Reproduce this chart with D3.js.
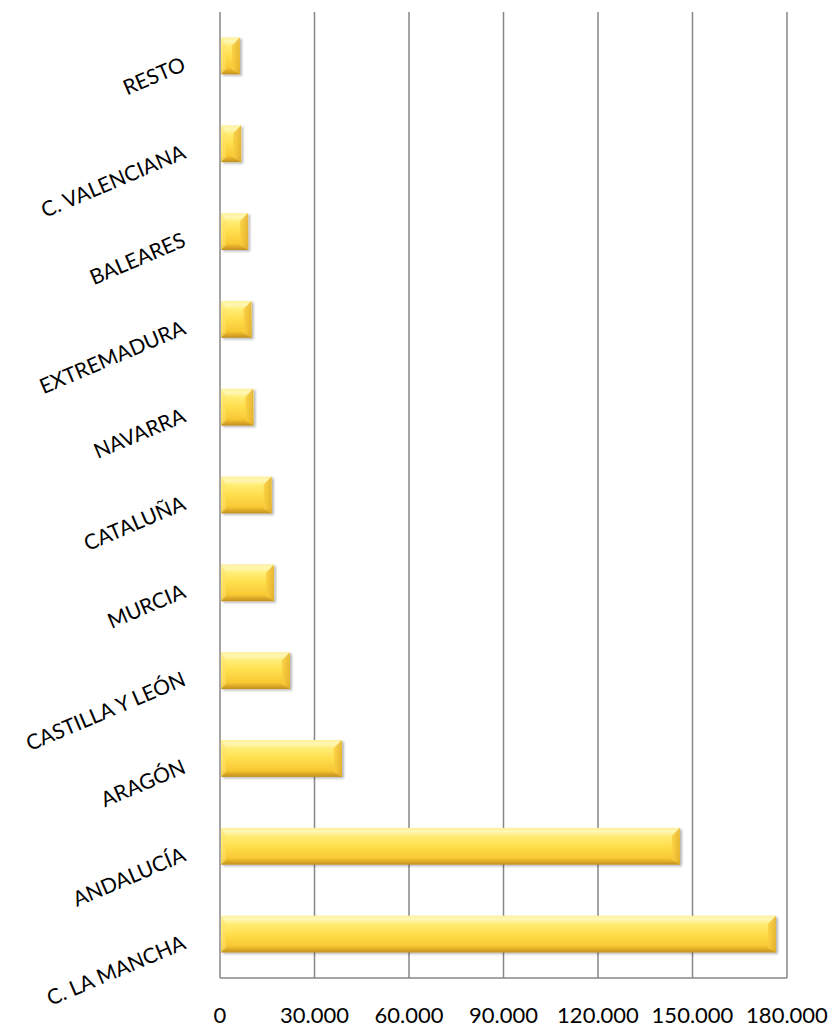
<!DOCTYPE html>
<html><head><meta charset="utf-8">
<script src="https://cdn.jsdelivr.net/npm/d3@7"></script>
<style>body{margin:0;background:#fff}svg{display:block}</style>
</head><body>
<script>
const categories = ["RESTO","C. VALENCIANA","BALEARES","EXTREMADURA","NAVARRA","CATALUÑA","MURCIA","CASTILLA Y LEÓN","ARAGÓN","ANDALUCÍA","C. LA MANCHA"];
const values = [6300,6700,8900,10000,10600,16400,17150,22200,38700,146000,176500];
const tickValues = [0,30000,60000,90000,120000,150000,180000];
const tickLabels = ["0","30.000","60.000","90.000","120.000","150.000","180.000"];

(function(){
const W=832,H=1028;
const svg=d3.select("body").append("svg").attr("width",W).attr("height",H);
const pL=220,pR=787,pT=12,pB=978;
const x=d3.scaleLinear().domain([0,180000]).range([pL,pR]);
const y=d3.scaleBand().domain(categories).range([pT,pB]).paddingInner(0.58).paddingOuter(0.29);

const defs=svg.append("defs");
const f=defs.append("filter").attr("id","sh").attr("x","-10%").attr("y","-30%").attr("width","130%").attr("height","170%");
f.append("feDropShadow").attr("dx",2).attr("dy",1.5).attr("stdDeviation",1.3).attr("flood-color","#000").attr("flood-opacity",0.28);
function grad(id,x2,y2,stops){
  const g=defs.append("linearGradient").attr("id",id).attr("x1",0).attr("y1",0).attr("x2",x2).attr("y2",y2);
  stops.forEach(s=>g.append("stop").attr("offset",s[0]).attr("stop-color",s[1]));
}
grad("mid",0,1,[["0%","#FFF09A"],["10%","#FFF7B4"],["24%","#FFEC72"],["50%","#FFDE4C"],["82%","#F8C934"],["91%","#E0AB28"],["100%","#BF901F"]]);
grad("rgt",1,0,[["0%","#FBD040"],["100%","#E2AE2C"]]);
grad("lft",1,0,[["0%","#FFE87A"],["100%","#FFE060"]]);

// grid
svg.append("g").selectAll("line").data(tickValues.slice(1)).join("line")
 .attr("x1",d=>x(d)).attr("x2",d=>x(d)).attr("y1",pT).attr("y2",pB)
 .attr("stroke","#878787").attr("stroke-width",1.5);

// bars
const b=8;
svg.append("g").selectAll("g").data(values).join("g").attr("filter","url(#sh)")
 .each(function(v,i){
  const g=d3.select(this);
  const x0=x(0)+1,x1=x(v),y0=y(categories[i]),y1=y0+y.bandwidth();
  const bb=Math.min(b,(x1-x0)/2);
  g.append("rect").attr("x",x0).attr("y",y0).attr("width",x1-x0).attr("height",y1-y0).attr("fill","url(#mid)");
  g.append("polygon").attr("points",[[x1,y0],[x1,y1],[x1-bb,y1-b*0.6],[x1-bb,y0+b]].join(" ")).attr("fill","url(#rgt)").attr("opacity",0.85);
  g.append("polygon").attr("points",[[x0,y0],[x0,y1],[x0+bb*0.6,y1-b*0.6],[x0+bb*0.6,y0+b]].join(" ")).attr("fill","url(#lft)").attr("opacity",0.6);
 });

// axis lines
svg.append("line").attr("x1",pL).attr("x2",pL).attr("y1",pT).attr("y2",pB).attr("stroke","#878787").attr("stroke-width",1.5);
svg.append("line").attr("x1",pL).attr("x2",pR).attr("y1",pB).attr("y2",pB).attr("stroke","#878787").attr("stroke-width",1.5);

// tick labels
svg.append("g").selectAll("text").data(tickValues).join("text")
 .attr("x",d=>x(d)).attr("y",1023).attr("text-anchor","middle")
 .attr("font-family","Lato, 'Open Sans', sans-serif").attr("font-size",22).attr("fill","#000")
 .text((d,i)=>tickLabels[i]);

// category labels
svg.append("g").selectAll("text").data(categories).join("text")
 .attr("transform",d=>{const cy=y(d)+y.bandwidth()/2;return `translate(187,${cy+14}) rotate(-23)`;})
 .attr("text-anchor","end")
 .attr("font-family","Lato, 'Open Sans', sans-serif").attr("font-size",21).attr("fill","#000")
 .text(d=>d);
})();
</script>
</body></html>
